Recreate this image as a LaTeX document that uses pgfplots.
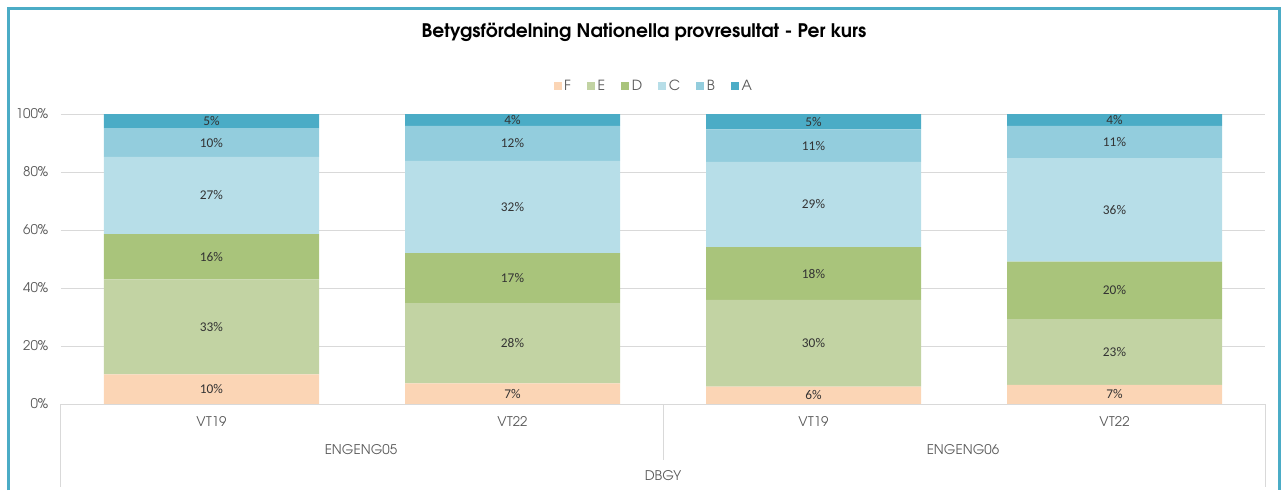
\documentclass[border=0pt]{standalone}
\usepackage{pgfplots}
\pgfplotsset{compat=1.18}
\usepackage{pgfplotstable}
\usepackage{fontspec}
\setmainfont{TeX Gyre Adventor}
\newfontfamily\cg{TeX Gyre Adventor}
\newfontfamily\calfont{Carlito}
\definecolor{cF}{RGB}{251,213,181}
\definecolor{cE}{RGB}{194,211,163}
\definecolor{cD}{RGB}{169,196,123}
\definecolor{cC}{RGB}{183,222,232}
\definecolor{cB}{RGB}{147,205,221}
\definecolor{cA}{RGB}{75,172,198}
\definecolor{teal1}{RGB}{75,172,198}
\definecolor{gridc}{RGB}{217,217,217}
\definecolor{txt}{RGB}{89,89,89}

\pgfplotstableread{
x F E D C B A
0 10.2 32.8 15.6 26.6 9.9 4.9
1 7.1 27.7 17.2 31.8 12.1 4.1
2 6.0 29.9 18.2 29.4 11.2 5.3
3 6.6 22.7 19.8 35.7 11.1 4.1
}\datatable

\begin{document}
\begin{tikzpicture}
\useasboundingbox (-45.75pt,-64.5pt) rectangle (915pt,303pt);
% outer teal border (three sides visible)
\draw[teal1, line width=2.25pt] (-39.4pt,-64.5pt) -- (-39.4pt,296.6pt) -- (913.9pt,296.6pt) -- (913.9pt,-64.5pt);
\begin{axis}[
  at={(0,0)}, anchor=south west,
  scale only axis,
  width=903pt, height=217.5pt,
  xmin=-0.5, xmax=3.5, ymin=0, ymax=100,
  ybar stacked, bar width=161.25pt,
  legend image code/.code={\fill[#1] (0pt,-3pt) rectangle (6pt,3pt);},
  point meta=explicit,
  axis line style={draw=none},
  tick style={draw=none},
  ymajorgrids, major grid style={draw=gridc, line width=0.75pt},
  ytick={0,20,40,60,80,100},
  yticklabel={\pgfmathprintnumber{\tick}\%},
  /pgf/number format/assume math mode=true,
  yticklabel style={font=\cg\fontsize{10}{12}\selectfont, text=txt, xshift=-6pt},
  xtick={0,1,2,3},
  xticklabels={VT19,VT22,VT19,VT22},
  xticklabel style={font=\cg\fontsize{10}{12}\selectfont, text=txt, anchor=center, yshift=-12.75pt},
  title={Betygsfördelning Nationella provresultat - Per kurs},
  title style={font=\cg\bfseries\fontsize{14}{16}\selectfont, at={(0.4842,1.2552)}, anchor=center},
  legend style={draw=none, fill=none, at={(0.4926,1.0966)}, anchor=center,
    font=\cg\fontsize{10.5}{12}\selectfont, text=txt,
    /tikz/every even column/.append style={column sep=10pt}},
  legend columns=6,
  nodes near coords={\pgfmathprintnumber[fixed,precision=0]{\pgfplotspointmeta}\%},
  every node near coord/.append style={anchor=center, font=\calfont\fontsize{10}{12}\selectfont, text=black!80},
  clip=false,
]
\addplot[fill=cF, draw=none] table[x=x, y=F, meta=F] {\datatable};
\addplot[fill=cE, draw=none] table[x=x, y=E, meta=E] {\datatable};
\addplot[fill=cD, draw=none] table[x=x, y=D, meta=D] {\datatable};
\addplot[fill=cC, draw=none] table[x=x, y=C, meta=C] {\datatable};
\addplot[fill=cB, draw=none] table[x=x, y=B, meta=B] {\datatable};
\addplot[fill=cA, draw=none] table[x=x, y=A, meta=A] {\datatable};
\legend{F,E,D,C,B,A}
\end{axis}
% category box lines
\draw[gridc, line width=0.75pt] (0pt,0pt) -- (903pt,0pt);
\draw[gridc, line width=0.75pt] (0pt,0pt) -- (0pt,-62.25pt);
\draw[gridc, line width=0.75pt] (451.5pt,0pt) -- (451.5pt,-42pt);
\draw[gridc, line width=0.75pt] (903pt,0pt) -- (903pt,-62.25pt);
\node[font=\cg\fontsize{10}{12}\selectfont, text=txt] at (225pt,-34.5pt) {ENGENG05};
\node[font=\cg\fontsize{10}{12}\selectfont, text=txt] at (676.5pt,-34.5pt) {ENGENG06};
\node[font=\cg\fontsize{10}{12}\selectfont, text=txt] at (451.5pt,-54pt) {DBGY};
\end{tikzpicture}
\end{document}
